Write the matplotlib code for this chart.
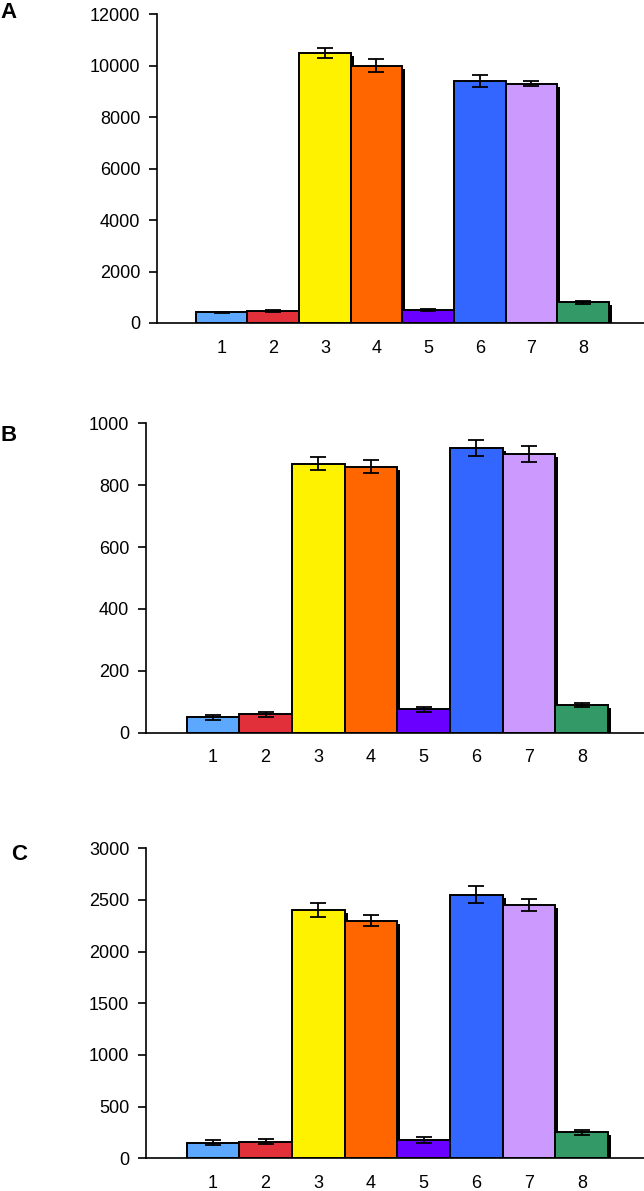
import matplotlib
matplotlib.use("Agg")
import matplotlib.pyplot as plt
from matplotlib.transforms import ScaledTranslation

plt.rcParams['font.family'] = ['Liberation Sans', 'DejaVu Sans']

groups = [1, 2, 3, 4, 5, 6, 7, 8]
colors = ['#5ca8ff', '#e2303a', '#fff200', '#ff6600',
          '#6a00ff', '#3366ff', '#cc99ff', '#339966']

vals_a = [410, 460, 10500, 10000, 500, 9400, 9300, 800]
err_a = [30, 40, 200, 250, 40, 220, 100, 50]
vals_b = [50, 60, 870, 860, 75, 920, 900, 90]
err_b = [8, 8, 20, 22, 8, 25, 25, 7]
vals_c = [150, 160, 2400, 2300, 180, 2550, 2450, 250]
err_c = [25, 25, 70, 50, 30, 80, 60, 25]

panels = [
    ('A', vals_a, err_a, 12000, 2000, [0.2438, 0.7288, 0.7562, 0.2594], -0.25),
    ('B', vals_b, err_b, 1000, 200, [0.2267, 0.3848, 0.7733, 0.2598], -0.27),
    ('C', vals_c, err_c, 3000, 500, [0.2267, 0.0275, 0.7733, 0.2603], -0.27),
]
letter_pos = {'A': (0.0, 0.9985), 'B': (0.0, 0.6430), 'C': (0.018, 0.2910)}

fig = plt.figure(figsize=(6.44, 11.91), dpi=100)

for name, vals, errs, top, step, rect, xleft in panels:
    ax = fig.add_axes(rect)
    # drop shadow: same bars shifted 3px right / 3px down
    shadow = ax.transData + ScaledTranslation(3 / 100, -3 / 100, fig.dpi_scale_trans)
    ax.bar(groups, vals, width=1.0, color='black', edgecolor='none',
           transform=shadow, zorder=1)
    ax.bar(groups, vals, width=1.0, color=colors, edgecolor='black',
           linewidth=1.4, zorder=2)
    ax.errorbar(groups, vals, yerr=errs, fmt='none', ecolor='black',
                elinewidth=1.3, capsize=6, capthick=1.3, zorder=3)
    ax.set_xlim(xleft, 9.18)
    ax.set_ylim(0, top)
    ax.set_yticks(range(0, top + 1, step))
    ax.set_xticks(groups)
    ax.spines['top'].set_visible(False)
    ax.spines['right'].set_visible(False)
    ax.spines['left'].set_linewidth(1.2)
    ax.spines['bottom'].set_linewidth(1.2)
    ax.tick_params(axis='y', length=6, width=1.2, pad=6, labelsize=13)
    ax.tick_params(axis='x', length=0, pad=12, labelsize=13)
    lx, ly = letter_pos[name]
    fig.text(lx, ly, name, fontsize=16, fontweight='bold', ha='left', va='top')

fig.savefig('out.png', dpi=100)
